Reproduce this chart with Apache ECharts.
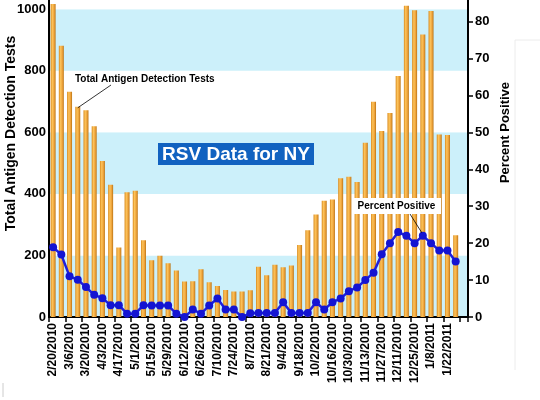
<!DOCTYPE html>
<html><head><meta charset="utf-8">
<script src="https://cdn.jsdelivr.net/npm/echarts@6/dist/echarts.min.js"></script>
<style>html,body{margin:0;padding:0;background:#fff}#c{width:540px;height:400px}</style>
</head><body><div id="c"></div>
<script>
const weeks = ['2/20/2010','2/27/2010','3/6/2010','3/13/2010','3/20/2010','3/27/2010','4/3/2010','4/10/2010','4/17/2010','4/24/2010',
  '5/1/2010','5/8/2010','5/15/2010','5/22/2010','5/29/2010','6/5/2010','6/12/2010','6/19/2010','6/26/2010','7/3/2010',
  '7/10/2010','7/17/2010','7/24/2010','7/31/2010','8/7/2010','8/14/2010','8/21/2010','8/28/2010','9/4/2010','9/11/2010',
  '9/18/2010','9/25/2010','10/2/2010','10/9/2010','10/16/2010','10/23/2010','10/30/2010','11/6/2010','11/13/2010','11/20/2010',
  '11/27/2010','12/4/2010','12/11/2010','12/18/2010','12/25/2010','1/1/2011','1/8/2011','1/15/2011','1/22/2011','1/29/2011'];
const totalTests = [1017,881,732,683,672,620,507,430,226,405,
  410,249,184,199,175,151,115,116,155,113,
  101,88,83,83,87,163,136,170,162,167,
  234,282,333,378,382,451,456,439,566,699,
  604,663,783,1011,997,918,994,593,591,266];
const percentPositive = [18.9,16.9,11,10.1,8.1,6.0,5.1,3.2,3.2,0.9,
  0.9,3.2,3.1,3.1,3.1,0.9,0,2.0,0.9,3.1,
  5.0,2.0,2.0,0,1.0,1.1,1.1,1.1,4.0,1.1,
  1.1,1.1,4.0,2.0,4.0,5.0,7.0,8.0,10.0,12.0,
  17.0,20.0,23.0,22.0,20.0,22.0,20.0,18.0,18.0,15.0];
const leftTicks = [0,200,400,600,800,1000];
const rightTicks = [0,10,20,30,40,50,60,70,80];

const FONT = 'Liberation Sans, Arial, sans-serif';
const chart = echarts.init(document.getElementById('c'), null, {renderer: 'canvas'});
const leftMax = 1030, ratio = 12;

chart.setOption({
  animation: false,
  backgroundColor: '#ffffff',
  grid: {left: 49, right: 72, top: 0, bottom: 83, containLabel: false, outerBoundsMode: 'none'},
  xAxis: {
    type: 'category', data: weeks, max: weeks.length, boundaryGap: true,
    axisLine: {lineStyle: {color: '#000', width: 2}},
    axisTick: {show: true, interval: 1, length: 5, lineStyle: {color: '#000', width: 1.5}},
    axisLabel: {interval: 1, rotate: 90, margin: 6, color: '#000', fontFamily: FONT, fontWeight: 'bold', fontSize: 12,
      formatter: v => v || ''}
  },
  yAxis: [{
    type: 'value', min: 0, max: leftMax, interval: 200, position: 'left',
    name: 'Total Antigen Detection Tests', nameLocation: 'middle', nameRotate: 90, nameGap: 31, nameMoveOverlap: false,
    nameTextStyle: {fontFamily: FONT, fontWeight: 'bold', fontSize: 14, color: '#000', padding: [0, 0, 0, 50]},
    axisLine: {show: true, lineStyle: {color: '#000', width: 2}},
    axisTick: {show: false},
    axisLabel: {color: '#000', fontFamily: FONT, fontWeight: 'bold', fontSize: 13, margin: 3,
      formatter: v => leftTicks.includes(v) ? String(v) : ''},
    splitLine: {show: false},
    splitArea: {show: true, areaStyle: {color: ['#ccf0fa', '#ffffff']}}
  }, {
    type: 'value', min: 0, max: leftMax / ratio, interval: 10, position: 'right',
    name: 'Percent Positive', nameLocation: 'middle', nameRotate: 90, nameGap: 31, nameMoveOverlap: false,
    nameTextStyle: {fontFamily: FONT, fontWeight: 'bold', fontSize: 13, color: '#000', padding: [0, 0, 0, 52]},
    axisLine: {show: true, lineStyle: {color: '#000', width: 2}},
    axisTick: {show: true, length: 5, customValues: rightTicks, lineStyle: {color: '#000', width: 1.5}},
    axisLabel: {color: '#000', fontFamily: FONT, fontWeight: 'bold', fontSize: 13, margin: 7, customValues: rightTicks,
      formatter: v => rightTicks.includes(v) ? String(v) : ''},
    splitLine: {show: false}
  }],
  series: [{
    type: 'bar', yAxisIndex: 0, data: totalTests, barWidth: 5, z: 2,
    itemStyle: {
      color: new echarts.graphic.LinearGradient(0, 0, 1, 0, [
        {offset: 0, color: '#d98a1e'}, {offset: 0.35, color: '#fcc35a'},
        {offset: 0.7, color: '#eea23a'}, {offset: 1, color: '#b97414'}])
    }
  }, {
    type: 'line', yAxisIndex: 1, data: percentPositive, z: 5,
    symbol: 'circle', symbolSize: 8, showSymbol: true, showAllSymbol: true,
    lineStyle: {color: '#1f1fdc', width: 2.5},
    itemStyle: {color: '#1414d2'}
  }]
});

const pBarTop = chart.convertToPixel({xAxisIndex: 0, yAxisIndex: 0}, [3, totalTests[3]]);
const pLine = chart.convertToPixel({xAxisIndex: 0, yAxisIndex: 1}, [45, percentPositive[45]]);

chart.setOption({
  graphic: [
    {type: 'rect', shape: {x: 158, y: 143, width: 156, height: 22}, style: {fill: '#1162c0'}, z: 10},
    {type: 'text', x: 236, y: 154.5, style: {text: 'RSV Data for NY', fill: '#fff', font: 'bold 19px ' + FONT, align: 'center', verticalAlign: 'middle'}, z: 11},
    {type: 'text', x: 75, y: 79, style: {text: 'Total Antigen Detection Tests', fill: '#000', font: 'bold 10px ' + FONT, align: 'left', verticalAlign: 'middle'}, z: 11},
    {type: 'line', shape: {x1: 111, y1: 85, x2: pBarTop[0], y2: pBarTop[1] + 1}, style: {stroke: '#000', lineWidth: 0.8}, z: 11},
    {type: 'rect', shape: {x: 352, y: 198, width: 89, height: 16}, style: {fill: '#fff'}, z: 10},
    {type: 'text', x: 396.5, y: 206, style: {text: 'Percent Positive', fill: '#000', font: 'bold 10px ' + FONT, align: 'center', verticalAlign: 'middle'}, z: 11},
    {type: 'line', shape: {x1: 410, y1: 214, x2: pLine[0] - 1, y2: pLine[1] - 3}, style: {stroke: '#000', lineWidth: 0.8}, z: 11},
    {type: 'line', shape: {x1: 515, y1: 40, x2: 515, y2: 370}, style: {stroke: '#ececec', lineWidth: 1}, z: 1},
    {type: 'line', shape: {x1: 515, y1: 40, x2: 540, y2: 40}, style: {stroke: '#ececec', lineWidth: 1}, z: 1},
    {type: 'line', shape: {x1: 3, y1: 383, x2: 3, y2: 397}, style: {stroke: '#cccccc', lineWidth: 1}, z: 1}
  ]
});
</script></body></html>
